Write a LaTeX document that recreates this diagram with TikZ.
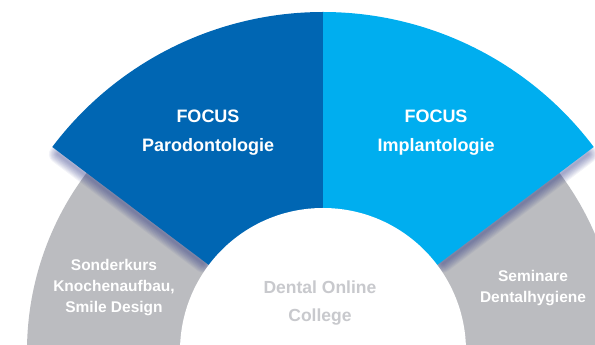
\documentclass[tikz,border=0pt]{standalone}
\usepackage{fontspec}
\setmainfont{Liberation Sans}

\definecolor{paroblue}{RGB}{0,102,179}
\definecolor{implblue}{RGB}{0,174,239}
\definecolor{ringgray}{RGB}{187,188,192}
\definecolor{collgray}{RGB}{200,201,205}
\definecolor{shadowblue}{RGB}{40,50,130}

\tikzset{
  focus/.style={text=white, font=\bfseries\fontsize{18}{29}\selectfont, align=center},
  side/.style={text=white, font=\bfseries\fontsize{15.5}{21}\selectfont, align=center},
  core/.style={text=collgray, font=\bfseries\fontsize{17.5}{28}\selectfont, align=center}
}

\begin{document}
\begin{tikzpicture}[x=1pt,y=1pt]
  \useasboundingbox (0,0) rectangle (595,345);
  \coordinate (o) at (323,-6);
  \begin{scope}
    \clip (0,0) rectangle (595,345);
    % Gray outer ring
    \fill[ringgray] (o) -- ++(-10:296) arc (-10:190:296) -- cycle;
    % Soft shadow along the sector edges
    \foreach \w in {2,4,...,18}
      \foreach \a in {37,143}
        \draw[shadowblue, opacity=0.06, line width=\w pt, line cap=round]
          ([shift={(\a:150)},yshift=-3pt]o) -- ([shift={(\a:332)},yshift=-3pt]o);
    % Focus sectors
    \fill[paroblue] (o) -- ++(90:339) arc (90:143:339) -- cycle;
    \fill[implblue] (o) -- ++(37:339) arc (37:90:339) -- cycle;
    % Inner disc
    \fill[white] (o) circle (143);
  \end{scope}
  % Labels
  \node[focus] (focuspar) at (208,212) {FOCUS\\Parodontologie};
  \node[focus] (focusimp) at (436,212) {FOCUS\\Implantologie};
  \node[side] (sonderkurs) at (114,57) {Sonderkurs\\Knochenaufbau,\\Smile Design};
  \node[side] (seminare) at (533,57) {Seminare\\Dentalhygiene};
  \node[core] (college) at (320,42) {Dental Online\\College};
\end{tikzpicture}
\end{document}
